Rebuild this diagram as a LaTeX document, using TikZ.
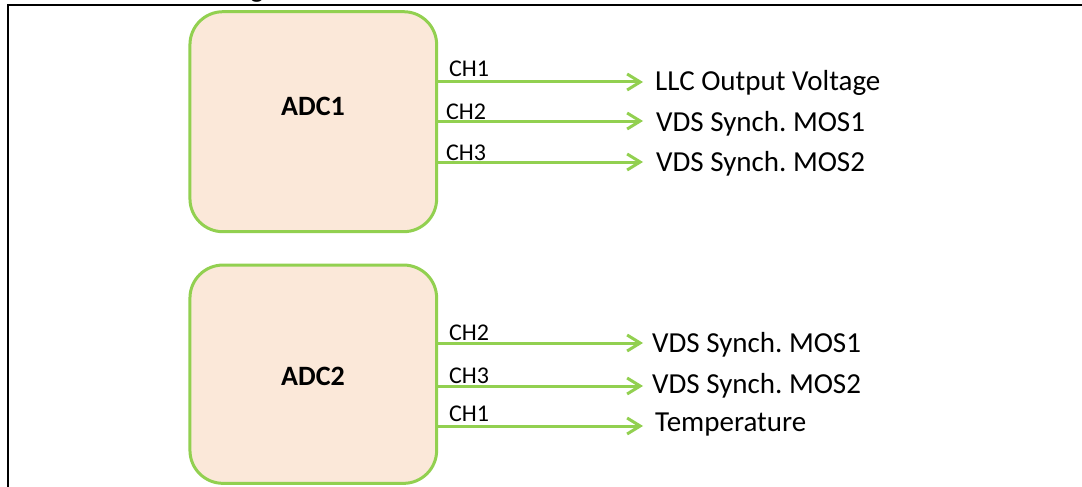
\documentclass[tikz,border=0pt]{standalone}
\usepackage{fontspec}
\setmainfont{Carlito}
\usetikzlibrary{arrows.meta}
\definecolor{adcgreen}{HTML}{92D050}
\definecolor{adcfill}{HTML}{FBE8D9}
\frenchspacing
\tikzset{
  adcbox/.style={draw=adcgreen, fill=adcfill, line width=3pt,
    rounded corners=33pt, minimum width=246.7pt, inner sep=0pt},
  adcname/.style={font=\fontsize{28}{28}\selectfont\bfseries, inner sep=0pt},
  chname/.style={font=\fontsize{24}{24}\selectfont, anchor=base west, inner sep=0pt},
  outname/.style={font=\fontsize{29}{29}\selectfont, anchor=base west, inner sep=0pt},
  sig/.style={draw=adcgreen, line width=3pt,
    -{Straight Barb[length=13pt, width=16pt, line width=3pt]}},
  frame/.style={draw=black, line width=2pt}
}
\begin{document}
\begin{tikzpicture}[x=1pt, y=-1pt]
  \useasboundingbox (0,0) rectangle (1082,487);
  \begin{scope}
    \clip (0,0) rectangle (1082,487);
    % frame and the tail of the heading above it
    \draw[frame] (8,490) -- (8,5.5) -- (1085,5.5);
    \node[font=\fontsize{28}{28}\selectfont, anchor=base, inner sep=0pt] (head) at (257,-2.6) {g};

    % converter blocks
    \node[adcbox, minimum height=220pt] (adc1) at (313.3,121.7) {};
    \node[adcbox, minimum height=218.3pt] (adc2) at (313.3,374.2) {};
    \node[adcname] (adc1t) at (313,106) {ADC1};
    \node[adcname] (adc2t) at (313,376) {ADC2};

    % ADC1 channels
    \coordinate (a1) at (643,82);
    \coordinate (a2) at (643,121);
    \coordinate (a3) at (643,162);
    \draw[sig] (adc1.east |- a1) -- (a1);
    \draw[sig] (adc1.east |- a2) -- (a2);
    \draw[sig] (adc1.east |- a3) -- (a3);
    \node[chname] (a1c) at (449,76.7) {CH1};
    \node[chname] (a2c) at (446,119) {CH2};
    \node[chname] (a3c) at (446,160) {CH3};
    \node[outname] (a1o) at (655,90) {LLC Output Voltage};
    \node[outname] (a2o) at (656,131.5) {VDS Synch. MOS1};
    \node[outname] (a3o) at (656,171.5) {VDS Synch. MOS2};

    % ADC2 channels
    \coordinate (b1) at (643,343);
    \coordinate (b2) at (643,386);
    \coordinate (b3) at (643,426);
    \draw[sig] (adc2.east |- b1) -- (b1);
    \draw[sig] (adc2.east |- b2) -- (b2);
    \draw[sig] (adc2.east |- b3) -- (b3);
    \node[chname] (b1c) at (449,340.7) {CH2};
    \node[chname] (b2c) at (449,383) {CH3};
    \node[chname] (b3c) at (449,421.7) {CH1};
    \node[outname] (b1o) at (652,352.7) {VDS Synch. MOS1};
    \node[outname] (b2o) at (652,393) {VDS Synch. MOS2};
    \node[outname] (b3o) at (655,431.7) {Temperature};
  \end{scope}
\end{tikzpicture}
\end{document}
